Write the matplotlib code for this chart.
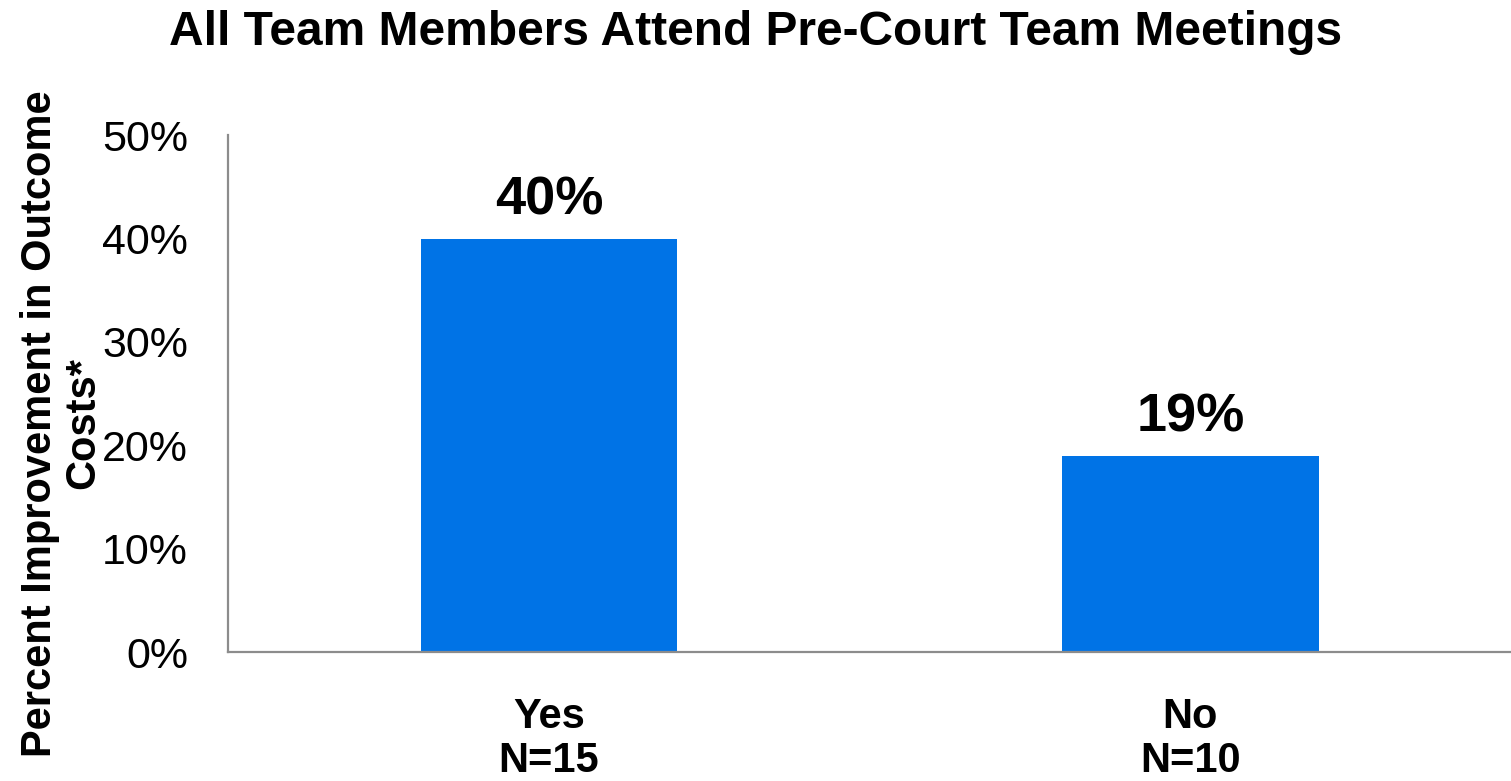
import numpy as np
import matplotlib
matplotlib.use("Agg")
import matplotlib.pyplot as plt
from matplotlib.ticker import FuncFormatter

plt.rcParams['font.family'] = ['Liberation Sans', 'DejaVu Sans']

# data
categories = ["Yes\nN=15", "No\nN=10"]
values = [0.40, 0.19]
labels = ["40%", "19%"]
yticks = [0, 0.1, 0.2, 0.3, 0.4, 0.5]

fig = plt.figure(figsize=(15.11, 7.81), dpi=100)
ax = fig.add_axes([0.151, 0.165, 0.849, 0.662])

x = np.arange(len(categories))
bars = ax.bar(x, values, width=0.4, color='#0073e6', zorder=2)

for b, lab in zip(bars, labels):
    ax.text(b.get_x() + b.get_width() / 2, b.get_height() + 0.013, lab,
            ha='center', va='bottom', fontsize=39, fontweight='bold')

ax.set_xlim(-0.5, 1.5)
ax.set_ylim(0, 0.5)
ax.set_yticks(yticks)
ax.yaxis.set_major_formatter(FuncFormatter(lambda v, p: f"{v*100:.0f}%"))
ax.set_xticks(x)
ax.set_xticklabels(categories, fontsize=30, fontweight='bold', linespacing=1.15)

ax.tick_params(axis='y', length=0, pad=29, labelsize=31)
ax.tick_params(axis='x', length=0, pad=32)

for s in ['top', 'right']:
    ax.spines[s].set_visible(False)
for s in ['left', 'bottom']:
    ax.spines[s].set_color('#8c8c8c')
    ax.spines[s].set_linewidth(1.6)

fig.text(0.5, 0.958, "All Team Members Attend Pre-Court Team Meetings",
         ha='center', va='center', fontsize=34.5, fontweight='bold')

fig.text(0.041, 0.458, "Percent Improvement in Outcome\nCosts*", rotation=90,
         ha='center', va='center', fontsize=30, fontweight='bold',
         multialignment='center', linespacing=1.1)

fig.savefig("out.png", dpi=100)
